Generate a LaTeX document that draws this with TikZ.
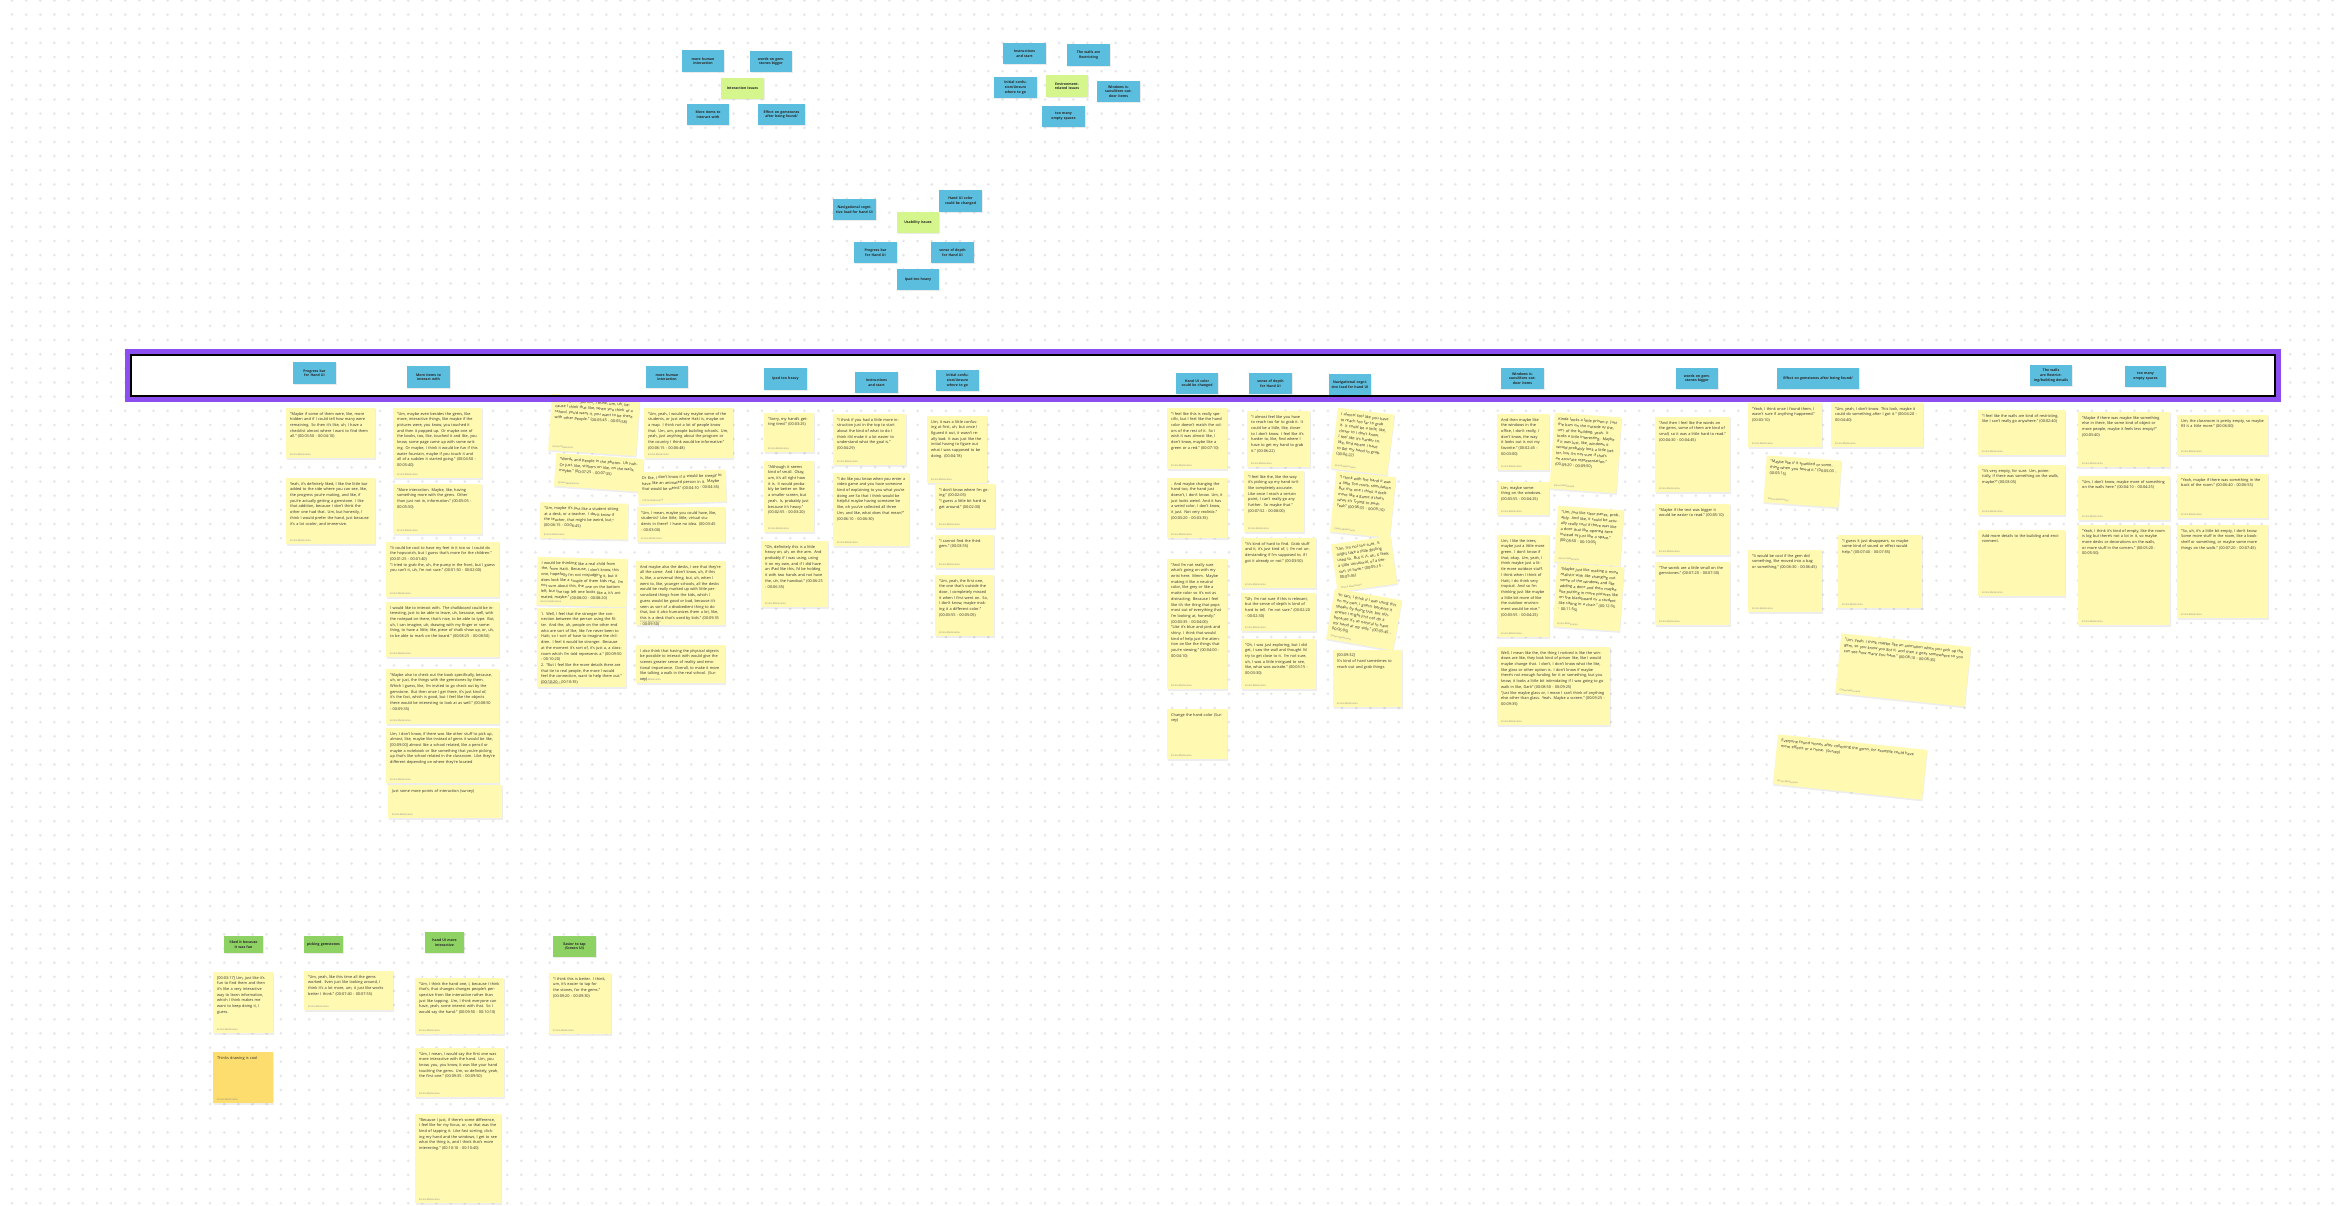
\documentclass[tikz,border=0pt]{standalone}
\usepackage{fontspec}
\setmainfont{Open Sans}
\definecolor{stky}{RGB}{255,249,177}
\definecolor{stkyor}{RGB}{252,221,110}
\definecolor{bluek}{RGB}{92,190,222}
\definecolor{limek}{RGB}{212,246,140}
\definecolor{greenk}{RGB}{143,210,100}
\definecolor{purp}{RGB}{140,78,240}
\definecolor{dotc}{RGB}{228,228,234}
\definecolor{txt}{RGB}{48,48,48}
\definecolor{auth}{RGB}{140,140,140}
\tikzset{
 stxt/.style={anchor=north west, inner sep=0, align=left, font=\fontsize{3.85}{5.7}\selectfont, text=txt, transform shape},
 sauth/.style={anchor=south west, inner sep=0, font=\fontsize{2.4}{2.8}\selectfont, text=auth, transform shape},
 htxt/.style={inner sep=0, align=center, font=\bfseries\fontsize{3.5}{4.6}\selectfont, text=black!85},
}
\newcommand{\ystk}[8][stky]{%
 \begin{scope}[rotate around={#7:({(#3+#5)/2},{(#4+#6)/2})}]
  \fill[black,opacity=0.07] ({#3+0.6},{#4+1.4}) rectangle ({#5+0.6},{#6+1.6});
  \fill[#1] (#3,#4) rectangle (#5,#6);
  \pgfmathsetlengthmacro\stkw{#5-#3-8}
  \node[stxt, text width=\stkw] (#2) at ({#3+4},{#4+4}) {#8};
  \node[sauth] (#2-a) at ({#3+4},{#6-2.5}) {Emma Madonama};
 \end{scope}}
\newcommand{\hstk}[7][bluek]{%
  \fill[black,opacity=0.08] ({#3+0.5},{#4+1.2}) rectangle ({#5+0.5},{#6+1.4});
  \fill[#1] (#3,#4) rectangle (#5,#6);
  \pgfmathsetlengthmacro\stkw{#5-#3-5}
  \node[htxt, text width=\stkw] (#2) at ({(#3+#5)/2},{(#4+#6)/2}) {#7};}
\begin{document}
\begin{tikzpicture}[x=1pt,y=-1pt]
\useasboundingbox (0,0) rectangle (2338,1206);
\fill[white] (0,0) rectangle (2338,1206);
% dot grid
\foreach \k in {0,...,85}{
  \draw[dotc, line width=2.8pt, line cap=round, dash pattern=on 0pt off 14.15pt] (12,{0.45+14.15*\k}) -- (2338,{0.45+14.15*\k});
}
% ---------- top clusters ----------
\hstk{t1}{682}{50}{724}{72}{more human interaction}
\hstk{t2}{750}{51}{792}{72}{words on gemstones bigger}
\hstk[limek]{t3}{721}{78}{764}{99}{Interaction Issues}
\hstk{t4}{687}{104}{729}{125}{More items to interact with}
\hstk{t5}{758}{104}{805}{125}{Effect on gemstones after being found/}
\hstk{t6}{1003}{43}{1046}{64}{Instructions and start}
\hstk{t7}{1067}{44}{1110}{66}{The walls are Restricting}
\hstk{t8}{994}{77}{1037}{98}{Initial confusion/Unsure where to go}
\hstk[limek]{t9}{1046}{75}{1088}{97}{Environment-related issues}
\hstk{t10}{1097}{81}{1140}{102}{Windows issues/More outdoor items}
\hstk{t11}{1042}{106}{1085}{127}{too many empty spaces}
% middle cluster
\hstk{m1}{833}{199}{876}{220}{Navigational cognitive load for hand UI}
\hstk{m2}{939}{190}{982}{212}{Hand UI color could be changed}
\hstk[limek]{m3}{897}{212}{939}{233}{Usability Issues}
\hstk{m4}{854}{242}{897}{263}{Progress bar for Hand UI}
\hstk{m5}{931}{242}{974}{263}{sense of depth for Hand UI}
\hstk{m6}{897}{269}{939}{290}{Ipad too heavy}
% ---------- band ----------
\fill[white] (130,354) rectangle (2276,397);
\ystk{c1}{550}{397}{638}{453}{-4}{"Or, maybe a person, I think, um, uh, because I think that like, when you think of a school, you'd want it, you want to be there with other people." (00:05:45 - 00:05:58)}
\draw[purp, line width=5pt] (127.5,351.5) rectangle (2278.5,399.5);
\draw[black, line width=1.8pt] (131,355) rectangle (2275,396);
\hstk{h1}{293}{362}{336}{384}{Progress bar for Hand UI}
\hstk{h2}{407}{366}{450}{388}{More items to interact with}
\hstk{h3}{646}{366}{688}{388}{more human interaction}
\hstk{h4}{764}{368}{807}{390}{Ipad too heavy}
\hstk{h5}{855}{372}{898}{393}{Instructions and start}
\hstk{h6}{936}{370}{979}{391}{Initial confusion/Unsure where to go}
\hstk{h7}{1176}{373}{1218}{394}{Hand UI color could be changed}
\hstk{h8}{1249}{373}{1292}{394}{sense of depth for Hand UI}
\hstk{h9}{1329}{374}{1371}{395}{Navigational cognitive load for hand UI}
\hstk{h10}{1501}{368}{1544}{389}{Windows issues/More outdoor items}
\hstk{h11}{1676}{368}{1718}{389}{words on gemstones bigger}
\hstk{h12}{1777}{368}{1859}{389}{Effect on gemstones after being found/}
\hstk{h13}{2030}{365}{2072}{386}{The walls are Restricting/building details}
\hstk{h14}{2125}{366}{2166}{387}{too many empty spaces}
% ---------- columns ----------
\ystk{a1}{286}{408}{375}{458}{0}{"Maybe if some of them were, like, more hidden and if I could tell how many were remaining. So then it's like, uh, I have a checklist almost where I want to find them all." (00:03:50 - 00:04:10)}
\ystk{a2}{286}{478}{375}{544}{0}{Yeah, it's definitely liked, I like the little bar added to the side where you can see, like, the progress you're making, and like, if you're actually getting a gemstone. I like that addition, because I don't think the other one had that. Um, but honestly, I think I would prefer the hand, just because it's a lot cooler, and immersive.}
\ystk{b1}{393}{408}{482}{478}{0}{"Um, maybe even besides the gems, like more, interactive things, like maybe if the pictures were, you know, you touched it and then it popped up. Or maybe one of the books, too, like, touched it and like, you know, some page came up with some writing. Or maybe, I think it would be fun if this water fountain, maybe if you touch it and all of a sudden it started going." (00:04:50 - 00:05:40)}
\ystk{b2}{393}{484}{482}{534}{0}{"More interaction. Maybe, like, having something more with the gems. Other than just not in, information." (00:05:05 - 00:05:50)}
\ystk{b3}{386}{542}{499}{597}{0}{"It could be cool to have my feet in it too so I could do the hopscotch, but I guess that's more for the children." (00:01:25 - 00:01:40)\\"I tried to grab the, uh, the pump in the front, but I guess you can't it, uh, I'm not sure." (00:01:50 - 00:02:00)}
\ystk{b4}{386}{602}{499}{657}{0}{I would like to interact with. The chalkboard could be interesting, just to be able to leave, uh, because, well, with the notepad on there, that's nice, to be able to type. But, uh, I can imagine, uh, drawing with my finger or something, to have a little, like, piece of chalk show up, or, uh, to be able to mark on the board." (00:08:25 - 00:08:50)}
\ystk{b5}{386}{669}{499}{724}{0}{"Maybe also to check out the book specifically, because, uh, or just, the things with the gemstones by them. Which I guess, like, I'm invited to go check out by the gemstone. But then once I get there, it's just kind of, it's the fact, which is good, but I feel like the objects there would be interesting to look at as well." (00:08:50 - 00:09:35)}
\ystk{b6}{386}{728}{499}{783}{0}{Um, I don't know, if there was like other stuff to pick up, almost, like, maybe like instead of gems it would be like, [00:09:00] almost like a school related, like a pencil or maybe a notebook or like something that you're picking up that's like school related in the classroom. Like they're different depending on where they're located}
\ystk{b7}{388}{785}{502}{818}{0}{Just some more points of interaction (survey)}
\ystk{c2}{555}{456}{643}{489}{-4}{"Words and people in the photos. Uh huh. Or just, like, stickers on like, on the walls, maybe." (00:07:25 - 00:07:35)}
\ystk{c3}{540}{503}{628}{539}{-1}{"Um, maybe it's just like a student sitting at a desk, or a teacher. I don't know if the teacher, that might be weird, but." (00:06:15 - 00:06:45)}
\ystk{c4}{537}{558}{627}{606}{-1.5}{I would be thinking like a real child from the, from Haiti. Because, I don't know, this one, hopefully I'm not misjudging it, but it does look like a couple of them kids real. I'm not sure about this, the one on the bottom left, but the top left one looks like a, it's animated, maybe." (00:08:00 - 00:08:20)}
\ystk{c5}{537}{608}{626}{687}{0}{1. Well, I feel that the stronger the connection between the person using the filter. And the, uh, people on the other end who are sort of like, like I've never been to Haiti, so I sort of have to imagine the children. I feel it would be stronger. Because at the moment it's sort of, it's just a, a classroom which I'm told represents a." (00:09:50 - 00:10:20)\\2. "But I feel like the more details there are that tie to real people, the more I would feel the connection, want to help them out." (00:10:20 - 00:10:35)}
\ystk{d1}{644}{408}{733}{458}{0}{"Um, yeah, I would say maybe some of the students, or just where Haiti is, maybe on a map. I think not a lot of people know that. Um, um, people building schools. Um, yeah, just anything about the program or the country I think would be informative." (00:06:15 - 00:06:48)}
\ystk{d2}{638}{471}{726}{503}{2}{Or like, I don't know if it would be creepy to have like an animated person in it. Maybe that would be weird." (00:04:10 - 00:04:35)}
\ystk{d3}{637}{507}{725}{542}{0}{"Um, I mean, maybe you could have, like, students? Like little, little, virtual students in there? I have no idea. (00:03:45 - 00:03:00)}
\ystk{d4}{636}{561}{725}{625}{0}{And maybe also the desks, I see that they're all the same. And I don't know, uh, if this is, like, a universal thing, but, uh, when I went to, like, younger schools, all the desks would be really marked up with little personalized things from the kids, which I guess would be good or bad, because it's seen as sort of a disobedient thing to do that, but it also humanizes them a lot, like, this is a desk that's used by kids." (00:09:35 - 00:09:50)}
\ystk{d5}{636}{645}{725}{683}{0}{I also think that having the physical objects be possible to interact with would give the scenes greater sense of reality and emotional importance. Overall, to make it more like talking a walk in the real school. (Survey)}
\ystk{e1}{764}{413}{814}{452}{0}{"Sorry, my hand's getting tired." (00:03:25)}
\ystk{e2}{764}{461}{814}{532}{0}{"Although it seems kind of small. Okay, um, it's all right how it is. It would probably be better on like a smaller screen, but yeah. Is, probably just because it's heavy." (00:02:55 - 00:03:20)}
\ystk{e3}{761}{541}{828}{607}{0}{"Oh, definitely this is a little heavy on, uh, on the arm. And probably if I was using, using it on my own, and if I did have an iPad like this, I'd be holding it with two hands and not have the, uh, the handout." (00:06:25 - 00:06:35)}
\ystk{f1}{833}{414}{906}{465}{0}{"I think if you had a little more instruction just in the top to start about the kind of what to do I think it'd make it a lot easier to understand what the goal is." (00:04:29)}
\ystk{f2}{833}{473}{909}{546}{0}{"I do like you know when you enter a video game and you have someone kind of explaining to you what you're doing are So that I think would be helpful maybe having someone be like, oh you've collected all three Um, and like, what does that mean?" (00:06:10 - 00:06:30)}
\ystk{g1}{927}{416}{987}{483}{0}{Um, it was a little confusing at first, uh, but once I figured it out, it wasn't really bad. It was just like the initial having to figure out what I was supposed to be doing. (00:04:18)}
\ystk{g2}{935}{484}{995}{528}{0}{"I don't know where I'm going." (00:02:05)\\"I guess a little bit hard to get around." (00:02:30)}
\ystk{g3}{935}{535}{994}{568}{0}{"I cannot find the third gem." (00:03:55)}
\ystk{g4}{935}{575}{994}{636}{0}{"Um, yeah, the first one, the one that's outside the door, I completely missed it when I first went on. So, I don't know, maybe making it a different color." (00:03:55 - 00:05:05)}
\ystk{h1s}{1167}{408}{1227}{469}{0}{"I feel like this is really specific, but I feel like the hand color doesn't match the colors of the rest of it. So I wish it was almost like, I don't know, maybe like a green or a red." (00:07:10)}
\ystk{h2s}{1167}{478}{1227}{538}{0}{. And maybe changing the hand too, the hand just doesn't, I don't know. Um, it just looks weird. And it has a weird color, I don't know, it just. Not very realistic." (00:03:20 - 00:03:35)}
\ystk{h3s}{1167}{559}{1227}{689}{0}{"And I'm not really sure what's going on with my wrist here. Mmm. Maybe making it like a neutral color, like grey or like a matte color so it's not as distracting. Because I feel like it's the thing that pops most out of everything that I'm looking at, honestly." (00:03:35 - 00:04:00)\\"Like it's blue and pink and shiny. I think that would kind of help just the attention on like the things that you're viewing." (00:04:00 - 00:04:10)}
\ystk{h4s}{1167}{709}{1227}{759}{0}{Change the hand color (Survey)}
\ystk{i1}{1247}{411}{1310}{467}{0}{"I almost feel like you have to reach too far to grab it. It could be a little, like, closer to I don't know. I feel like it's harder to, like, find where I have to get my hand to grab it." (00:06:22)}
\ystk{i2}{1244}{471}{1304}{532}{0}{"I feel like the, like the way it's picking up my hand isn't like completely accurate. Like once I reach a certain point, I can't really go any further. So maybe that." (00:07:52 - 00:08:00)}
\ystk{i3}{1241}{538}{1316}{588}{0}{"It's kind of hard to find. Grab stuff and it, it's just kind of, I, I'm not understanding if I'm supposed to, if I got it already or not." (00:03:50)}
\ystk{i4}{1241}{593}{1316}{631}{0}{"Uh, I'm not sure if this is relevant, but the sense of depth is kind of hard to tell. I'm not sure." (00:02:20 - 00:02:30)}
\ystk{i5}{1241}{639}{1316}{689}{0}{"Oh, I was just exploring, but I did get, I saw the wall and thought I'd try to get close to it. I'm not sure, uh, I was a little intrigued to see, like, what was outside." (00:03:15 - 00:03:30)}
\ystk{j1}{1334}{411}{1391}{472}{-7}{I almost feel like you have to reach too far to grab it. It could be a little, like, closer to I don't know. I feel like it's harder to, like, find where I have to get my hand to grab. (00:06:22)}
\ystk{j2}{1333}{474}{1393}{535}{-6}{"I think with the hand it was a little Too much stimulation But this one I think it feels more like a game if that's what it's Trying to push Yeah" (00:08:55 - 00:09:10)}
\ystk{j3}{1334}{540}{1394}{588}{8}{"Um, I'm not too sure. It might take a little getting used to. But it is, uh, it feels a little unnatural, of a person, to have." (00:05:15 - 00:05:45)}
\ystk{j4}{1330}{594}{1398}{645}{-10}{"In fact, I think if I was using this on my own, I guess, because it speaks by doing this, but otherwise I might just not do it because it's as natural to have my hand at my side." (00:05:45 - 00:06:05)}
\ystk{j5}{1333}{650}{1402}{707}{0}{[00:09:32]\\It's kind of hard sometimes to reach out and grab things.}
\ystk{k1}{1497}{414}{1549}{470}{0}{And then maybe like the windows in the office, I don't really, I don't know, the way it looks out is not my favorite." (00:02:45 - 00:03:00)}
\ystk{k2}{1497}{482}{1549}{515}{0}{Um, maybe something on the windows. (00:03:55 - 00:04:25)}
\ystk{k3}{1497}{535}{1549}{637}{0}{Um, I like the trees, maybe just a little more green. I don't know if that, okay. Um, yeah, I think maybe just a little more outdoor stuff. I think when I think of Haiti, I do think very tropical. And so I'm thinking just like maybe a little bit more of like the outdoor environment would be nice." (00:03:55 - 00:04:25)}
\ystk{k4}{1497}{647}{1610}{725}{0}{Well, I mean like the, the thing I noticed is like the windows are like, they look kind of prison like, like I would maybe change that. I don't, I don't know what the like, like glass or other option is. I don't know if maybe there's not enough funding for it or something, but you know, it looks a little bit intimidating if I was going to go walk in like, Dark" (00:08:50 - 00:09:25)\\"Just like maybe glass or, I mean I can't think of anything else other than glass. Yeah. Maybe a screen." (00:09:25 - 00:09:35)}
\ystk{l1}{1552}{415}{1619}{491}{-4}{Kinda looks a little prison-y. Just the bars on the outside of the, um, of the building, yeah. It looks a little interesting. Maybe if it was just, like, windows it would probably look a little better, but I'm not sure if that's an accurate representation." (00:09:20 - 00:09:50)}
\ystk{l2}{1556}{508}{1622}{564}{-4}{"Um, just like clear panes, probably. And like, it could be actually really cool if there was like a door that like opened here instead of just like a space." (00:09:50 - 00:10:05)}
\ystk{l3}{1555}{565}{1622}{629}{-4}{"Maybe just like making it more realistic with like changing out some of the windows and like adding a door and then maybe like putting in more pictures like on the blackboard or a student like sitting in a chair." (00:12:35 - 00:11:55)}
% right region
\ystk{n1}{1655}{417}{1730}{492}{0}{"And then I feel like the words on the gems, some of them are kind of small, so it was a little hard to read." (00:04:30 - 00:04:45)}
\ystk{n2}{1655}{504}{1730}{555}{0}{"Maybe if the text was bigger it would be easier to read." (00:05:10)}
\ystk{n3}{1655}{562}{1730}{625}{0}{"The words are a little small on the gemstones." (00:07:20 - 00:07:30)}
\ystk{o1}{1748}{403}{1822}{447}{0}{"Yeah, I think once I found them, I wasn't sure if anything happened." (00:03:10)}
\ystk{o2}{1831}{403}{1923}{447}{0}{"Um, yeah, I don't know. This look, maybe it could do something after I got it." (00:04:20 - 00:04:40)}
\ystk{o3}{1765}{458}{1840}{505}{-4}{"Maybe like if it sparkled or something when you found it." (00:05:00 - 00:05:15)}
\ystk{o4}{1748}{550}{1822}{612}{0}{"It would be cool if the gem did something, like moved into a bag or something." (00:06:30 - 00:06:45)}
\ystk{o5}{1838}{535}{1922}{608}{0}{"I guess it just disappears, so maybe some kind of sound or effect would help." (00:07:40 - 00:07:55)}
\ystk{o6}{1838}{640}{1968}{700}{-6}{"Um, yeah, I think maybe like an animation when you pick up the gem, so you know you got it, and then it goes somewhere so you can see how many you have." (00:08:10 - 00:08:35)}
\ystk{o7}{1775}{742}{1925}{792}{-6}{Everyone found stones after collecting the gems, for example could have more effects or a noise. (Survey)}
\ystk{p1}{1978}{410}{2065}{455}{0}{"I feel like the walls are kind of restricting, like I can't really go anywhere." (00:02:40)}
\ystk{p2}{1978}{465}{2065}{515}{0}{"It's very empty, for sure. Um, potentially, if there was something on the walls, maybe?" (00:03:05)}
\ystk{p3}{1978}{530}{2065}{596}{0}{Add more details to the building and environment.}
\ystk{q1}{2078}{412}{2170}{467}{0}{"Maybe if there was maybe like something else in there, like some kind of object or more people, maybe it feels less empty?" (00:03:40)}
\ystk{q2}{2078}{476}{2170}{520}{0}{"Um, I don't know, maybe more of something on the walls here." (00:04:10 - 00:04:25)}
\ystk{q3}{2078}{525}{2170}{625}{0}{"Yeah, I think it's kind of empty, like the room is big but there's not a lot in it, so maybe more desks or decorations on the walls, or more stuff in the corners." (00:05:20 - 00:05:50)}
\ystk{r1}{2177}{415}{2268}{455}{0}{Um, the classroom is pretty empty, so maybe fill it a little more." (00:06:00)}
\ystk{r2}{2177}{474}{2268}{518}{0}{"Yeah, maybe if there was something in the back of the room." (00:06:40 - 00:06:55)}
\ystk{r3}{2177}{525}{2268}{618}{0}{"So, uh, it's a little bit empty, I don't know. Some more stuff in the room, like a bookshelf or something, or maybe some more things on the walls." (00:07:20 - 00:07:45)}
% ---------- bottom ----------
\hstk[greenk]{g-b1}{224}{936}{263}{953}{liked it because it was fun}
\hstk[greenk]{g-b2}{304}{936}{343}{953}{picking gemstones}
\hstk[greenk]{g-b3}{425}{932}{464}{953}{hand UI more interactive}
\hstk[greenk]{g-b4}{553}{936}{596}{957}{Easier to tap (Screen UI)}
\ystk{yb1}{213}{972}{273}{1033}{0}{[00:03:17] Um, just like it's fun to find them and then it's like a very interactive way to learn information, which I think makes me want to keep doing it, I guess.}
\ystk[stkyor]{yor}{213}{1052}{273}{1103}{0}{Thinks drawing is cool}
\ystk{yb2}{304}{971}{393}{1010}{0}{"Um, yeah, like this time all the gems worked. Even just like looking around, I think it's a lot more, um, it just like works better I think." (00:07:40 - 00:07:55)}
\ystk{yb3}{415}{978}{504}{1034}{0}{"Um, I think the hand one, I, because I think that's, that changes changes people's perspective from like interactive rather than just like tapping. Um, I think everyone can have, yeah, some interest with that. So I would say the hand." (00:09:50 - 00:10:10)}
\ystk{yb4}{415}{1048}{504}{1097}{0}{"Um, I mean, I would say the first one was more interactive with the hand. Um, you know, you, you know, it was like your hand touching the gems. Um, so definitely, yeah, the first one." (00:09:35 - 00:09:50)}
\ystk{yb6}{415}{1114}{501}{1203}{0}{"Because I just, if there's some difference, I feel like for my focus, or, so that was the kind of tapping it. Like fast sorting, clicking my hand and the windows, I get to see what the thing is, and I think that's more interesting." (00:10:10 - 00:10:40)}
\ystk{yb5}{549}{973}{611}{1034}{0}{"I think this is better. I think, um, it's easier to tap for the stones, for the gems." (00:09:20 - 00:09:30)}
\end{tikzpicture}
\end{document}
